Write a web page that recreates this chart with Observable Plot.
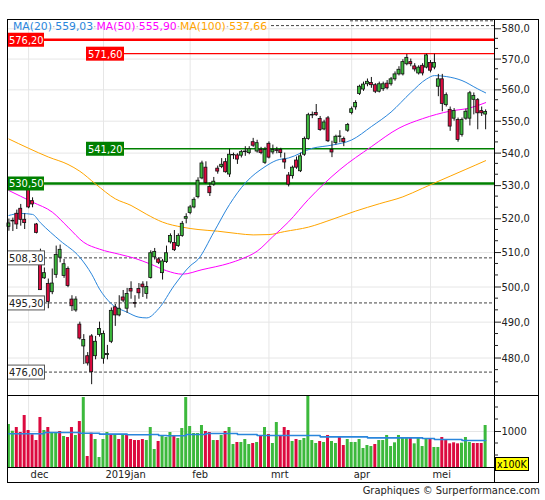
<!DOCTYPE html>
<html>
<head>
<meta charset="utf-8">
<script src="https://cdn.jsdelivr.net/npm/d3@7"></script>
<script src="https://cdn.jsdelivr.net/npm/@observablehq/plot@0.6"></script>
<style>
html,body{margin:0;padding:0;background:#fff;}
#chart{position:relative;width:545px;height:500px;overflow:hidden;font-family:"DejaVu Sans Condensed","Liberation Sans",Arial,sans-serif;font-size:11px;color:#222;}
#chart svg{position:absolute;left:0;}
.abs{position:absolute;white-space:nowrap;}
.sep{color:#aaa;}
</style>
</head>
<body>
<div id="chart"></div>
<script>
// ---------- DATA ----------
const opens = [
517.6,519.2,521.5,523.0,519.7,528.8,525.3,518.3,507.1,502.5,
500.9,498.5,503.5,508.5,503.2,505.2,496.4,493.3,489.3,483.2,
480.5,486.0,480.5,486.4,479.8,480.8,484.5,494.2,491.9,497.0,
493.8,499.4,495.4,499.4,500.7,498.0,502.6,508.6,508.0,504.0,
507.2,513.0,512.8,511.9,514.9,520.0,521.7,523.4,526.5,532.2,
535.5,529.6,530.3,535.2,535.7,537.2,533.4,539.3,539.3,539.2,
540.3,540.0,543.4,540.5,541.0,537.0,542.9,540.2,540.9,541.0,
538.0,533.1,532.9,537.7,534.4,539.5,544.4,551.8,552.6,550.7,
547.4,550.9,541.0,543.1,545.0,544.4,547.0,552.6,554.4,558.7,
560.1,561.8,562.2,561.5,559.4,560.2,562.0,561.8,563.4,565.0,
565.0,568.3,569.0,567.6,565.3,567.8,567.2,568.7,567.2,561.0,
563.4,555.1,553.6,550.8,550.4,545.7,550.8,550.8,556.8,556.7,
553.2,552.1];
const closes = [
518.6,519.4,518.3,519.7,518.7,523.4,524.3,515.8,499.1,504.0,
495.7,501.0,509.3,510.8,506.6,500.3,494.5,496.4,485.4,485.0,
478.5,476.1,484.5,488.1,486.7,481.1,493.2,491.9,493.8,496.1,
498.0,498.7,495.2,498.2,499.9,500.0,509.8,510.2,507.0,507.4,
509.8,514.9,510.7,514.9,518.5,520.5,523.4,525.7,531.5,536.8,
530.8,527.7,531.2,534.3,536.4,534.1,539.5,539.4,538.0,540.3,
540.5,541.2,542.3,543.1,540.0,541.0,538.6,541.0,540.7,540.0,
537.1,530.3,535.5,535.5,539.0,544.4,551.9,552.0,551.9,547.2,
549.6,543.7,540.2,545.1,545.2,543.4,548.8,553.8,555.8,561.0,
561.7,562.6,561.5,559.4,561.8,561.8,560.5,563.4,565.0,566.5,
569.0,570.4,568.3,566.6,567.2,565.3,571.2,566.2,568.7,563.4,
555.5,558.3,548.3,553.2,544.1,550.4,553.0,558.9,558.0,552.5,
552.5,552.9];
const highs = [
519.9,520.2,522.6,524.3,521.5,531.5,526.3,518.6,511.0,505.5,
502.3,505.2,511.9,512.2,508.0,505.8,497.5,497.2,490.0,486.5,
481.5,486.5,486.0,490.0,487.5,483.5,494.0,495.0,497.5,499.0,
499.6,501.5,497.5,501.0,501.5,501.5,510.5,511.2,508.5,508.0,
511.9,515.5,516.5,515.5,519.2,521.5,524.0,526.3,532.4,537.5,
537.3,530.8,532.5,536.0,538.3,538.3,541.2,540.0,539.8,540.8,
542.0,542.0,544.6,544.0,541.8,541.8,543.5,542.5,541.8,541.5,
540.0,534.0,536.0,538.8,540.0,545.0,552.5,552.9,555.3,551.5,
550.3,551.5,543.7,545.6,547.0,545.0,549.3,554.5,556.5,561.5,
562.5,563.5,564.0,562.0,562.5,562.5,563.0,564.0,565.8,567.5,
569.8,571.5,570.0,568.5,567.8,568.5,571.6,569.5,571.6,565.0,
565.0,559.0,554.5,554.0,551.0,551.0,553.8,559.5,559.0,557.2,
554.5,553.6];
const lows = [
516.3,516.2,516.8,517.8,516.8,523.0,523.3,515.5,499.0,502.2,
493.8,497.8,502.5,507.0,502.5,499.8,493.0,492.8,485.0,478.2,
477.8,472.7,479.5,485.8,478.3,479.5,484.0,488.8,491.5,495.5,
492.5,496.5,494.0,496.5,497.0,496.5,502.3,507.8,506.5,502.0,
506.8,512.5,510.3,511.5,514.5,518.5,521.2,523.0,526.0,531.8,
530.5,526.7,529.8,533.5,535.2,533.8,532.5,538.0,536.5,538.5,
539.0,539.5,541.8,540.0,539.5,536.5,538.2,539.5,539.8,538.5,
535.0,529.6,532.0,535.0,534.0,539.0,544.0,550.8,551.5,546.8,
547.0,543.3,538.6,542.5,543.2,542.0,546.5,552.0,553.5,558.2,
559.5,561.0,560.5,558.8,559.0,559.5,560.0,561.2,562.8,564.5,
564.5,567.8,567.5,565.8,564.8,564.5,566.8,565.5,566.5,557.8,
553.0,554.5,546.8,550.0,543.4,545.0,550.3,548.5,552.0,547.3,
551.5,547.3];
// volume in units of 100K
const volumes = [
1146,1006,1083,979,1333,1021,931,812,1292,1021,
1083,979,979,1000,896,875,1083,917,1208,1708,
479,965,833,458,833,979,917,937,833,917,
937,833,812,812,833,812,1083,625,792,917,
875,979,917,854,1062,1708,1104,958,958,1125,
1000,979,812,812,917,1000,1083,729,771,771,
833,729,750,771,896,1083,938,750,1187,917,
1083,1021,792,833,812,854,1743,812,750,792,
771,917,792,750,875,708,833,771,771,833,
646,708,687,729,812,812,917,687,764,917,
861,861,861,743,861,687,833,833,667,667,
875,812,743,764,743,757,875,771,750,750,
750,1125];
const volUp = [
1,1,0,0,0,0,0,0,0,1, 0,1,1,0,1,0,0,1,0,1,
0,0,1,1,1,1,0,1,0,1, 0,0,0,0,0,1,1,1,0,1,
1,1,0,1,1,1,1,1,1,1, 0,0,1,0,1,0,1,1,0,1,
1,1,0,1,0,1,0,1,1,0, 0,0,1,0,1,1,1,1,1,0,
1,0,1,1,0,0,1,1,1,1, 1,1,1,0,1,1,1,1,1,1,
1,1,0,1,1,1,1,0,1,1, 0,0,0,0,0,1,1,1,0,0,
0,1];
const avgVolIdx = [0,9,18,23,30,36,38,40,45,50,58,63,79,91,97,105,108,115,121];
const avgVolVal = [952,979,965,945,931,937,917,910,937,958,937,917,889,868,868,854,833,812,812];

const ma20Idx = [0,3,6,8,13,18,21,23,26,30,33,35,38,42,46,48,52,56,60,65,68,71,77,82,87,92,97,102,106,108,111,115,119,121];
const ma20Val = [521,521.6,521.3,518.8,513.5,508.6,503.7,499.4,495.2,492.8,491.4,491.2,493.8,500.5,506.1,508,516,524.3,530.8,535.8,537.8,538.5,541.5,542.5,544.1,548.3,552.9,559.1,563.5,564.6,564.3,563,560.3,559.03];
const ma50Idx = [0,6,11,15,19,23,28,32,36,40,44,49,56,59,63,67,71,76,84,92,99,105,112,117,121];
const ma50Val = [528.5,525,522,517.5,513,511,509.5,508.3,506.6,504.7,503.7,505,506.9,508.1,510.4,514.7,519.1,525.8,534.9,542,547.8,550.8,553.2,554.2,555.9];
const ma100Idx = [0,5,10,15,18,22,27,31,35,39,44,48,53,58,62,66,70,76,82,88,94,100,105,108,112,116,121];
const ma100Val = [544.4,541.5,538.8,536.5,534.4,530.5,526,524,521.3,519,517.5,516.8,516.3,515.6,515.2,515.3,516.2,517.5,519.8,522.3,524.5,526.6,529.2,530.8,532.9,535,537.66];
const legendNames = ["MA(20)","MA(50)","MA(100)"];
const legendValues = [559.03,555.90,537.66];

const levelValues = [582.5,580.9,576.2,571.6,541.2,530.5,508.3,495.3,476.0];
const levelKinds  = ["offTopA","offTopB","resistMain","resist","support","supportMain","pivot","pivot","pivot"];

const monthIdx = [5,24,46,66,87,107];
const monthLabels = ["dec","2019jan","feb","mrt","apr","mei"];
const priceTicks = [480,490,500,510,520,530,540,550,560,570,580];
const volTickMajor = [1000];
const volTickMinor = [500,750,1250,1500];

// ---------- STYLE / LAYOUT ----------
const FONT = '"DejaVu Sans Condensed","Liberation Sans",Arial,sans-serif';
const GREEN="#3cb93c", RED="#dc0a3f", BLUE="#2a86dc", MAGENTA="#ff00ff", ORANGE="#ffa500", GRID="#e6e6e6";
const xDomain=[-0.36,123.25];
const candles = opens.map((o,i)=>({i,o,h:highs[i],l:lows[i],c:closes[i]}));
const volData = volumes.map((v,i)=>({i,v,up:volUp[i]===1}));
const toPts=(xs,ys)=>xs.map((x,k)=>({x,y:ys[k]}));
const fmt2 = v=>v.toFixed(2).replace(".",",");

const KIND = {
  offTopA:{stroke:"#444",width:1,dash:"3,2",start:350},
  offTopB:{stroke:"#444",width:1,dash:"3,2",start:271},
  resistMain:{stroke:"#ff0000",width:2.6,box:"left",fill:"#ff0000",text:"#fff",full:true},
  resist:{stroke:"#ff0000",width:1.3,box:"mid",fill:"#ff0000",text:"#fff"},
  support:{stroke:"#008000",width:1.3,box:"mid",fill:"#008000",text:"#fff"},
  supportMain:{stroke:"#008000",width:2.6,box:"left",fill:"#008000",text:"#fff",full:true},
  pivot:{stroke:"#444",width:1,dash:"3,2",box:"left",fill:"#fff",text:"#222",border:"#555"}
};
function boxOf(st, L){
  if(st.box==="left") return {bx:L,bw:37};
  if(st.box==="mid") return {bx:86,bw:38};
  return null;
}
function levelLines(index, scales, values, dims){
  const L=dims.marginLeft, R=dims.width-dims.marginRight;
  const g=d3.create("svg:g");
  levelValues.forEach((v,k)=>{
    const st=KIND[levelKinds[k]];
    const y=scales.y(v);
    const b=boxOf(st,L);
    const x1 = st.start!=null ? st.start : (st.full||!b ? L : b.bx+b.bw);
    g.append("line").attr("x1",x1).attr("x2",R).attr("y1",y).attr("y2",y)
      .attr("stroke",st.stroke).attr("stroke-width",st.width)
      .attr("stroke-dasharray",st.dash||null);
  });
  return g.node();
}
function levelBoxes(index, scales, values, dims){
  const L=dims.marginLeft;
  const g=d3.create("svg:g").attr("text-anchor","start");
  levelValues.forEach((v,k)=>{
    const st=KIND[levelKinds[k]];
    const b=boxOf(st,L);
    if(!b) return;
    const y=scales.y(v);
    g.append("rect").attr("x",b.bx+(st.border?0.5:0)).attr("y",y-7).attr("width",b.bw).attr("height",14)
      .attr("fill",st.fill).attr("stroke",st.border||"none");
    g.append("text").attr("x",b.bx+2).attr("y",y+4).attr("text-anchor","start")
      .attr("fill",st.text).text(fmt2(v));
  });
  return g.node();
}
const minorTicks = vals => (index, scales, values, dims)=>{
  const R=dims.width-dims.marginRight;
  const g=d3.create("svg:g").attr("stroke","#222");
  vals.forEach(v=>{const y=scales.y(v); g.append("line").attr("x1",R).attr("x2",R+4).attr("y1",y).attr("y2",y);});
  return g.node();
};
const priceMinor=[];
for(let b=470;b<=580;b+=10){ priceMinor.push(b+10/3,b+20/3); }
const priceMinorIn = priceMinor.filter(v=>v>470 && v<583);

const style = {fontFamily:FONT,fontSize:"11px",color:"#222",background:"transparent",overflow:"visible"};

const pricePlot = Plot.plot({
  width:545, height:395, marginLeft:7, marginRight:51, marginTop:19, marginBottom:0,
  style,
  x:{domain:xDomain, axis:null},
  y:{type:"log", domain:[469.77,583.11], axis:"right", ticks:priceTicks,
     tickFormat:d=>d.toFixed(1).replace(".",","), tickSize:6, tickPadding:1, label:null},
  marks:[
    Plot.ruleY(priceTicks,{stroke:GRID}),
    Plot.ruleX(monthIdx,{stroke:GRID}),
    levelLines,
    Plot.line(toPts(ma100Idx,ma100Val),{x:"x",y:"y",stroke:ORANGE,strokeWidth:1,curve:"monotone-x"}),
    Plot.line(toPts(ma50Idx,ma50Val),{x:"x",y:"y",stroke:MAGENTA,strokeWidth:1,curve:"monotone-x"}),
    Plot.line(toPts(ma20Idx,ma20Val),{x:"x",y:"y",stroke:BLUE,strokeWidth:1,curve:"monotone-x"}),
    Plot.ruleX(candles,{x:"i",y1:"l",y2:"h",stroke:"#111",strokeWidth:1}),
    Plot.rect(candles,{x1:d=>d.i-0.38,x2:d=>d.i+0.38,y1:"o",y2:"c",
      fill:d=>d.c>=d.o?GREEN:RED, stroke:"#111", strokeWidth:0.8}),
    levelBoxes,
    Plot.frame({stroke:"#000"}),
    minorTicks(priceMinorIn)
  ]
});
pricePlot.style.top="0px";

const volPlot = Plot.plot({
  width:545, height:87, marginLeft:7, marginRight:51, marginTop:0, marginBottom:15,
  style,
  x:{domain:xDomain, axis:null},
  y:{domain:[250,1750], axis:"right", ticks:volTickMajor, tickFormat:d=>String(d),
     tickSize:6, tickPadding:1, label:null},
  marks:[
    Plot.ruleX(monthIdx,{stroke:GRID}),
    Plot.ruleY(volTickMajor,{stroke:GRID}),
    Plot.rect(volData,{x1:d=>d.i-0.38,x2:d=>d.i+0.38,y1:d=>250,y2:"v",
      fill:d=>d.up?GREEN:RED, clip:true}),
    Plot.line(toPts(avgVolIdx,avgVolVal),{x:"x",y:"y",stroke:BLUE,strokeWidth:1.6,curve:"step-after"}),
    Plot.text(monthIdx,{x:d=>d,text:(d,i)=>monthLabels[i],frameAnchor:"bottom",lineAnchor:"top",
      textAnchor:"start",dx:2,dy:3,fill:"#222"}),
    Plot.frame({stroke:"#000"}),
    minorTicks(volTickMinor)
  ]
});
volPlot.style.top="395px";

const chart=document.getElementById("chart");
chart.appendChild(pricePlot);
chart.appendChild(volPlot);

function addDiv(css, html){
  const d=document.createElement("div");
  d.className="abs"; d.style.cssText=css; if(html!=null) d.innerHTML=html;
  chart.appendChild(d); return d;
}
// outer frame and separators
addDiv("left:7px;top:19px;width:532px;height:464px;border:1px solid #000;box-sizing:border-box;");
addDiv("left:494px;top:395px;width:44px;height:1px;background:#000;");
addDiv("left:494px;top:467px;width:1px;height:15px;background:#000;");
// legend
const legendColors=[BLUE,MAGENTA,ORANGE];
let lg="";
legendNames.forEach((n,k)=>{
  if(k>0) lg+='<span class="sep">·</span>';
  lg+=`<span style="color:${legendColors[k]}">${n}</span><span class="sep">·</span><span style="color:${legendColors[k]}">${legendValues[k].toFixed(2).replace(".",",")}</span>`;
});
addDiv('left:13px;top:20px;line-height:13px;font-size:10.8px;font-family:"DejaVu Sans",sans-serif;', lg);
// unit box
addDiv("left:495px;top:457px;width:34px;height:14px;background:#ffff00;border:1px solid #000;box-sizing:border-box;line-height:12px;padding-left:1px;font-size:10.5px;color:#000;overflow:hidden;","x100K");
// footer
addDiv("right:5px;top:484px;line-height:13px;font-size:11px;color:#222;","Graphiques © Surperformance.com");
</script>
</body>
</html>
